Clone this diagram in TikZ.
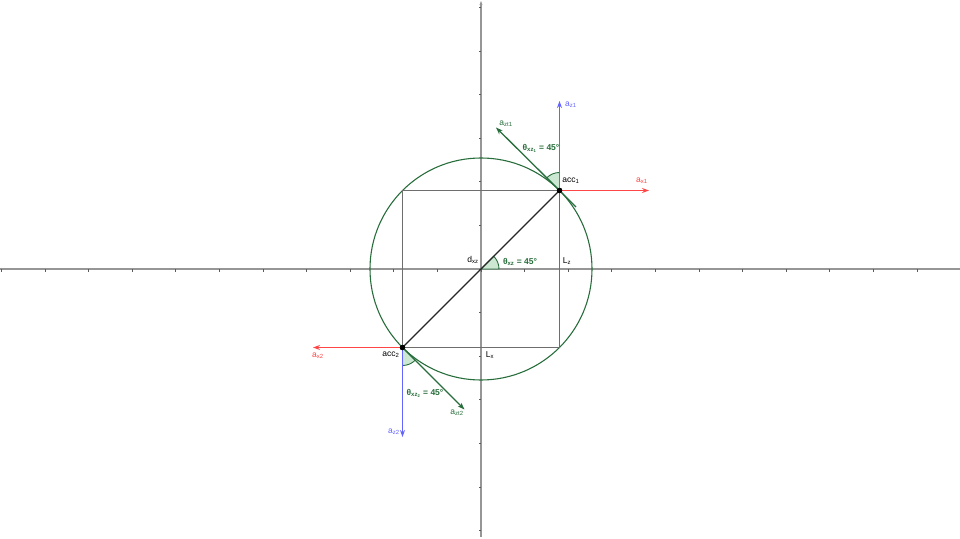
\documentclass[tikz,border=0pt]{standalone}
\usepackage{fontspec}
\setmainfont{Liberation Sans}
\usetikzlibrary{arrows.meta}
\definecolor{gblue}{RGB}{100,100,255}
\definecolor{gred}{RGB}{255,70,70}
\definecolor{ggreen}{RGB}{40,110,60}
\definecolor{gfill}{RGB}{205,232,210}
\definecolor{gaxis}{RGB}{150,150,150}
\definecolor{gsq}{RGB}{110,110,110}
\tikzset{
  axisline/.style={gaxis, line width=1.4pt},
  tickmark/.style={gaxis!60!black, line width=0.7pt},
  sqline/.style={gsq, line width=1.6pt},
  vec/.style={line width=1.3pt, -{Stealth[length=7pt,width=5pt]}},
  anglearc/.style={ggreen, fill=gfill, line width=0.9pt},
  lbl/.style={font=\fontsize{8.5}{9}\selectfont, inner sep=0pt},
  glbl/.style={lbl, text=ggreen, font=\fontsize{8.5}{9}\selectfont\bfseries},
  pt/.style={circle, fill=black, inner sep=0pt, minimum size=5.5pt}
}
\begin{document}
\begin{tikzpicture}[x=1pt,y=1pt]
\useasboundingbox (-481,-269) rectangle (479,269);
% axes
\coordinate (xl) at (-481,0);
\coordinate (xr) at (479,0);
\coordinate (yb) at (0,-268);
\coordinate (yt) at (0,268);
\draw[axisline] (xl) -- (xr);
\draw[axisline, -{Stealth[length=4pt,width=3pt]}] (yb) -- (yt);
\foreach \k in {-11,...,10} {\draw[tickmark] (\k*43.6,0) -- (\k*43.6,-2.5);}
\foreach \k in {-6,...,6} {\draw[tickmark] (0,\k*43.6) -- (-2.5,\k*43.6);}
% geometry
\coordinate (O) at (0,0);
\coordinate (sqA) at (-78.5,78.5);
\coordinate (sqB) at (78.5,-78.5);
\node[pt] (acc1) at (78.5,78.5) {};
\node[pt] (acc2) at (-78.5,-78.5) {};
\draw[ggreen, line width=1.1pt] (O) circle (111);
\draw[sqline] (acc2.center) -- (sqA) -- (acc1.center) -- (sqB) -- cycle;
% angle arcs
\draw[anglearc] (O) -- (18,0) arc (0:45:18) -- cycle;
\draw[anglearc] (acc1.center) -- ++(90:18) arc (90:135:18) -- cycle;
\draw[anglearc] (acc2.center) -- ++(270:18) arc (270:315:18) -- cycle;
\draw[black!85, line width=1.1pt] (acc2.center) -- (acc1.center);
% vectors
\coordinate (az1) at (78.5,168);
\coordinate (ax1) at (168,78.5);
\coordinate (azt1) at (15,141.5);
\coordinate (t1) at (95,62);
\coordinate (ax2) at (-168,-78.5);
\coordinate (az2) at (-78.5,-168);
\coordinate (azt2) at (-16.5,-140.5);
\draw[vec, gblue] (acc1.center) -- (az1);
\draw[vec, gred] (acc1.center) -- (ax1);
\draw[ggreen, line width=1.2pt] (t1) -- (acc1.center);
\draw[vec, ggreen] (acc1.center) -- (azt1);
\draw[vec, gred] (acc2.center) -- (ax2);
\draw[vec, gblue] (acc2.center) -- (az2);
\draw[vec, ggreen] (acc2.center) -- (azt2);
\node[pt] at (acc1) {};
\node[pt] at (acc2) {};
% labels
\node[lbl, text=gblue] (laz1) at (90,164) {a\textsubscript{z1}};
\node[lbl, text=ggreen] (lazt1) at (25,145) {a\textsubscript{zt1}};
\node[glbl] (lth1) at (60,121) {θ\textsubscript{xz\textsubscript{1}} = 45°};
\node[lbl] (lacc1) at (90,88) {acc\textsubscript{1}};
\node[lbl, text=gred] (lax1) at (161,88) {a\textsubscript{x1}};
\node[lbl] (ldxz) at (-8,9) {d\textsubscript{xz}};
\node[glbl] (lth) at (39,7) {θ\textsubscript{xz} = 45°};
\node[lbl] (llz) at (86,8) {L\textsubscript{z}};
\node[lbl] (llx) at (9,-86) {L\textsubscript{x}};
\node[lbl] (lacc2) at (-90,-86) {acc\textsubscript{2}};
\node[lbl, text=gred] (lax2) at (-163,-87) {a\textsubscript{x2}};
\node[glbl] (lth2) at (-56,-124) {θ\textsubscript{xz\textsubscript{2}} = 45°};
\node[lbl, text=ggreen] (lazt2) at (-24,-144) {a\textsubscript{zt2}};
\node[lbl, text=gblue] (laz2) at (-87,-163) {a\textsubscript{z2}};
\end{tikzpicture}
\end{document}
